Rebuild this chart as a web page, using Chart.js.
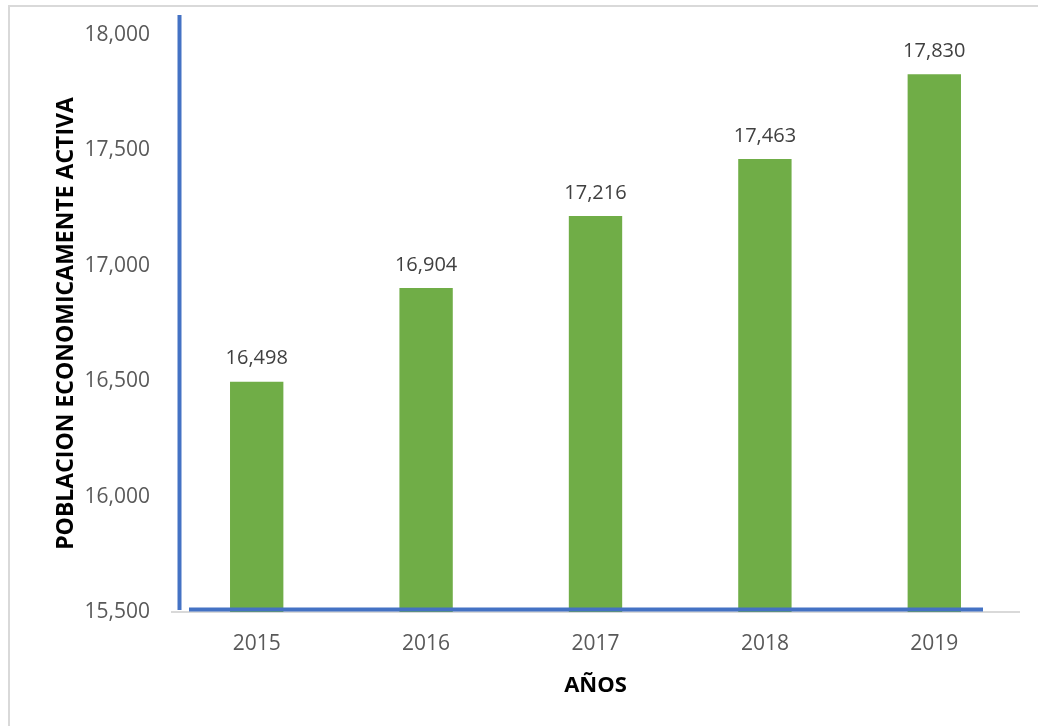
<!DOCTYPE html>
<html>
<head>
<meta charset="utf-8">
<script src="https://cdn.jsdelivr.net/npm/chart.js@4.4.1/dist/chart.umd.min.js"></script>
<style>
  html, body { margin: 0; padding: 0; background: #fff; overflow: hidden; }
  .frame {
    position: absolute; left: 8px; top: 5px; width: 1060px; height: 760px;
    border: 2px solid #d9d9d9; box-sizing: border-box;
  }
  .wrap { position: absolute; left: 0; top: 0; width: 1038px; height: 726px; }
</style>
</head>
<body>
<div class="frame"></div>
<div class="wrap"><canvas id="pea"></canvas></div>
<script>
(() => {
  const years = ["2015", "2016", "2017", "2018", "2019"];
  const pea = [16498, 16904, 17216, 17463, 17830];
  const yMin = 15500;
  const yMax = 18000;
  const yStep = 500;

  const FONT = "'Open Sans', 'Noto Sans', sans-serif";
  const fmt = (v) => v.toLocaleString("en-US");

  /* value labels above bars */
  const barLabels = {
    id: "barLabels",
    afterDatasetsDraw(chart) {
      const { ctx } = chart;
      const meta = chart.getDatasetMeta(0);
      ctx.save();
      ctx.font = `20px ${FONT}`;
      ctx.fillStyle = "#404040";
      ctx.textAlign = "center";
      ctx.textBaseline = "bottom";
      meta.data.forEach((bar, i) => {
        ctx.fillText(fmt(pea[i]), bar.x, bar.y - 13);
      });
      ctx.restore();
    },
  };

  /* hand-drawn blue axis strokes */
  const blueAxes = {
    id: "blueAxes",
    afterDraw(chart) {
      const { ctx, chartArea: a } = chart;
      ctx.save();
      ctx.strokeStyle = "#4472c4";
      ctx.lineWidth = 4;
      ctx.beginPath();
      ctx.moveTo(a.left + 7.5, a.top - 20);
      ctx.lineTo(a.left + 7.5, a.bottom - 2);
      ctx.moveTo(a.left + 17, a.bottom - 2.5);
      ctx.lineTo(a.right - 36, a.bottom - 2.5);
      ctx.stroke();
      ctx.restore();
    },
  };

  new Chart(document.getElementById("pea"), {
    type: "bar",
    data: {
      labels: years,
      datasets: [{
        data: pea,
        backgroundColor: "#70ad47",
        categoryPercentage: 1,
        barPercentage: 0.315,
      }],
    },
    options: {
      responsive: true,
      maintainAspectRatio: false,
      animation: false,
      layout: { padding: { top: 35, right: 19, left: 0, bottom: 0 } },
      plugins: { legend: { display: false }, tooltip: { enabled: false } },
      scales: {
        x: {
          grid: { display: false, drawTicks: false },
          border: { display: true, color: "#d9d9d9", width: 2 },
          ticks: { color: "#595959", font: { family: FONT, size: 21 }, padding: 19 },
          title: {
            display: true, text: "AÑOS", color: "#000",
            font: { family: FONT, size: 22, weight: "bold" },
            padding: { top: 0, bottom: 27 },
          },
          afterFit(s) { s.height = 114; },
        },
        y: {
          min: yMin, max: yMax,
          grid: { display: false, drawTicks: false },
          border: { display: false },
          ticks: {
            stepSize: yStep, color: "#595959", padding: 22,
            font: { family: FONT, size: 21 },
            callback: (v) => fmt(v),
          },
          title: {
            display: true, text: "POBLACION ECONOMICAMENTE ACTIVA", color: "#000",
            font: { family: FONT, size: 23, weight: "bold" },
            padding: { top: 53, bottom: 0 },
          },
          afterFit(s) { s.width = 172; },
        },
      },
    },
    plugins: [barLabels, blueAxes],
  });
})();
</script>
</body>
</html>
